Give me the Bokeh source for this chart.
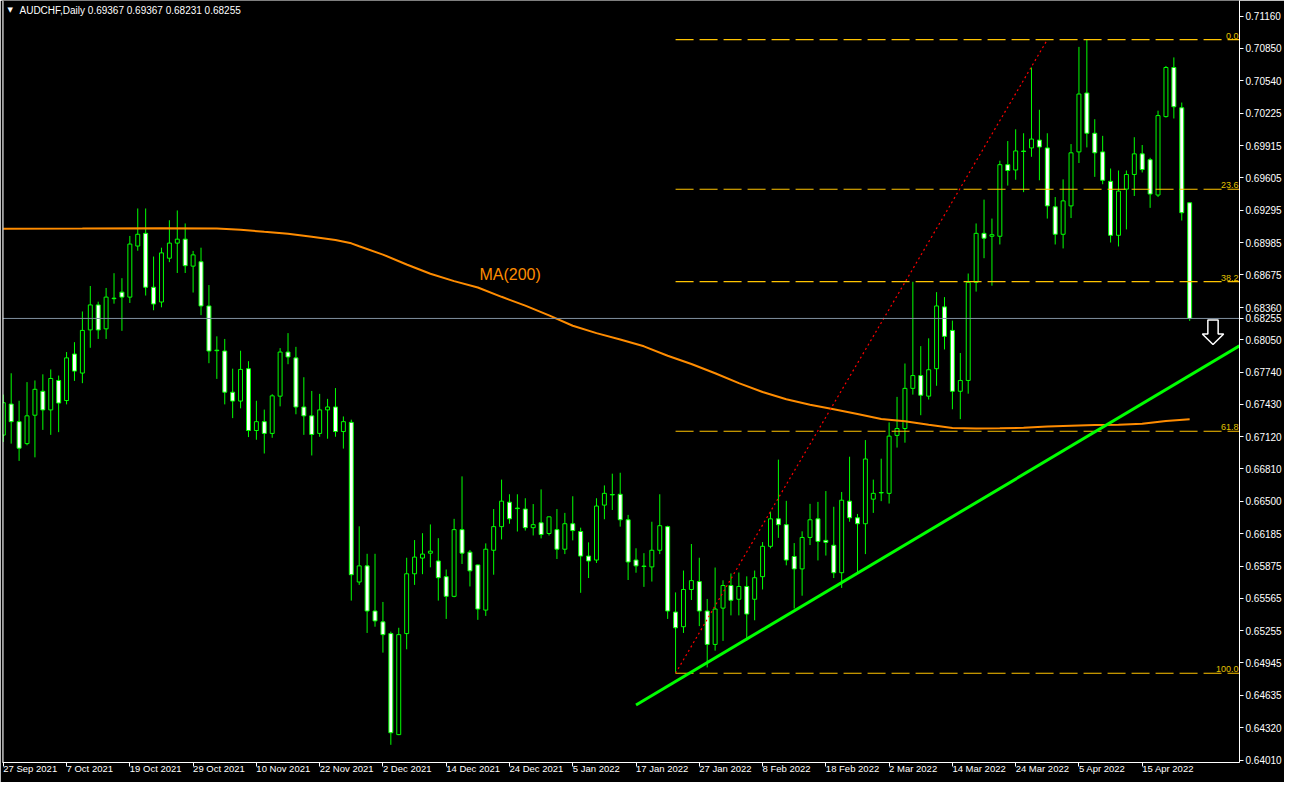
from bokeh.plotting import figure
from bokeh.models import ColumnDataSource, FixedTicker, NumeralTickFormatter, Span, Range1d
from bokeh.embed import file_html
from bokeh.resources import INLINE
from bokeh.core.properties import value

# ---------------- data (AUDCHF daily, bar index 0 = 27 Sep 2021) ----------------
opens = [0.67134, 0.67432, 0.67263, 0.67052, 0.67325, 0.67555, 0.67376, 0.67659, 0.67466, 0.67913,
         0.67730, 0.68145, 0.68385, 0.68155, 0.68450, 0.68508, 0.68460, 0.68951, 0.69073, 0.68555,
         0.68413, 0.68834, 0.68979, 0.69017, 0.68758, 0.68800, 0.68375, 0.67950, 0.67942, 0.67546,
         0.67461, 0.67772, 0.67178, 0.67263, 0.67150, 0.67508, 0.67932, 0.67876, 0.67404, 0.67319,
         0.67150, 0.67376, 0.67404, 0.67168, 0.67256, 0.65722, 0.65877, 0.65443, 0.65339, 0.65226,
         0.64255, 0.65226, 0.65801, 0.65952, 0.65999, 0.65924, 0.65773, 0.65584, 0.66225, 0.66009,
         0.65886, 0.65452, 0.66027, 0.66254, 0.66489, 0.66432, 0.66423, 0.66244, 0.66291, 0.66188,
         0.66225, 0.66037, 0.66282, 0.66207, 0.65971, 0.65933, 0.66461, 0.66563, 0.66565, 0.66320,
         0.65933, 0.65875, 0.65867, 0.66027, 0.66254, 0.65433, 0.65292, 0.65650, 0.65726, 0.65443,
         0.65122, 0.65471, 0.65688, 0.65556, 0.65679, 0.65556, 0.65773, 0.66065, 0.66329, 0.66273,
         0.65967, 0.65848, 0.66150, 0.66329, 0.66122, 0.66075, 0.65811, 0.66499, 0.66339, 0.66282,
         0.66518, 0.66582, 0.66574, 0.67131, 0.67197, 0.67583, 0.67706, 0.67508, 0.67772, 0.68366,
         0.68140, 0.67555, 0.67659, 0.68602, 0.69073, 0.69045, 0.69045, 0.69733, 0.69682, 0.69864,
         0.69894, 0.69969, 0.69894, 0.69328, 0.69064, 0.69337, 0.69856, 0.70422, 0.70035, 0.69856,
         0.69573, 0.69054, 0.69498, 0.69639, 0.69837, 0.69781, 0.69441, 0.70195, 0.70667, 0.70280,
         0.69367]
highs = [0.67523, 0.67728, 0.67464, 0.67643, 0.67659, 0.67718, 0.67765, 0.67706, 0.67932, 0.68027,
         0.68322, 0.68567, 0.68416, 0.68548, 0.68690, 0.68642, 0.69048, 0.69312, 0.69312, 0.68850,
         0.68935, 0.69199, 0.69293, 0.69168, 0.68904, 0.68935, 0.68576, 0.68083, 0.68058, 0.67772,
         0.67945, 0.67844, 0.67464, 0.67379, 0.67527, 0.67970, 0.68114, 0.67982, 0.67690, 0.67558,
         0.67530, 0.67482, 0.67586, 0.67313, 0.67282, 0.66257, 0.65993, 0.65993, 0.65530, 0.65245,
         0.65282, 0.65955, 0.66125, 0.66191, 0.66275, 0.66143, 0.65842, 0.66329, 0.66737, 0.66030,
         0.65890, 0.66093, 0.66423, 0.66706, 0.66565, 0.66565, 0.66527, 0.66471, 0.66612, 0.66350,
         0.66423, 0.66386, 0.66546, 0.66244, 0.66103, 0.66527, 0.66650, 0.66763, 0.66772, 0.66367,
         0.66046, 0.65999, 0.66301, 0.66565, 0.66263, 0.65622, 0.65832, 0.66087, 0.65955, 0.65559,
         0.65861, 0.65738, 0.65804, 0.65813, 0.65776, 0.65832, 0.66106, 0.66398, 0.66898, 0.66502,
         0.66096, 0.66209, 0.66473, 0.66492, 0.66596, 0.66445, 0.66587, 0.66926, 0.66376, 0.67086,
         0.66706, 0.66907, 0.67256, 0.67501, 0.67822, 0.68608, 0.67989, 0.68064, 0.68508, 0.68460,
         0.68234, 0.67923, 0.68687, 0.69168, 0.69397, 0.69215, 0.69771, 0.69960, 0.70073, 0.70035,
         0.70667, 0.70261, 0.70035, 0.69422, 0.69592, 0.69931, 0.70865, 0.70934, 0.70170, 0.70010,
         0.69696, 0.69677, 0.69677, 0.69997, 0.69922, 0.69799, 0.70252, 0.70682, 0.70764, 0.70330,
         0.69367]
lows = [0.67068, 0.67052, 0.66886, 0.67036, 0.66920, 0.67184, 0.67136, 0.67162, 0.67429, 0.67655,
        0.67633, 0.67973, 0.68058, 0.68058, 0.68397, 0.68136, 0.68404, 0.68906, 0.68475, 0.68334,
        0.68362, 0.68796, 0.68692, 0.68692, 0.68504, 0.68287, 0.67825, 0.67674, 0.67429, 0.67297,
        0.67391, 0.67115, 0.67089, 0.66957, 0.67108, 0.67410, 0.67815, 0.67334, 0.67136, 0.66938,
        0.67118, 0.67099, 0.67118, 0.67004, 0.65543, 0.65694, 0.65232, 0.65292, 0.65043, 0.64157,
        0.64250, 0.65075, 0.65694, 0.65797, 0.65863, 0.65543, 0.65367, 0.65575, 0.65895, 0.65679,
        0.65358, 0.65396, 0.65792, 0.66131, 0.66282, 0.66207, 0.66216, 0.66169, 0.66141, 0.66169,
        0.65943, 0.65990, 0.66122, 0.65618, 0.65760, 0.65905, 0.66325, 0.66414, 0.66254, 0.65741,
        0.65811, 0.65675, 0.65726, 0.65990, 0.65367, 0.64845, 0.65232, 0.65549, 0.65298, 0.64901,
        0.65062, 0.65156, 0.65401, 0.65401, 0.65160, 0.65354, 0.65650, 0.66046, 0.66146, 0.65882,
        0.65467, 0.65590, 0.66077, 0.65929, 0.65976, 0.65760, 0.65665, 0.66301, 0.65801, 0.65990,
        0.66386, 0.66499, 0.66476, 0.67014, 0.67061, 0.67523, 0.67325, 0.67476, 0.67608, 0.67957,
        0.67382, 0.67287, 0.67532, 0.68513, 0.68834, 0.68570, 0.68966, 0.69532, 0.69588, 0.69469,
        0.69809, 0.69583, 0.69215, 0.68966, 0.68928, 0.69220, 0.69749, 0.69899, 0.69616, 0.69545,
        0.68985, 0.68947, 0.69111, 0.69432, 0.69658, 0.69318, 0.69422, 0.70186, 0.70177, 0.69196,
        0.68231]
closes = [0.67445, 0.67263, 0.67008, 0.67319, 0.67574, 0.67376, 0.67678, 0.67442, 0.67876, 0.67749,
          0.68140, 0.68385, 0.68145, 0.68460, 0.68445, 0.68460, 0.68970, 0.69064, 0.68555, 0.68394,
          0.68885, 0.68979, 0.69017, 0.68762, 0.68866, 0.68375, 0.67942, 0.67945, 0.67546, 0.67461,
          0.67765, 0.67178, 0.67263, 0.67150, 0.67511, 0.67932, 0.67885, 0.67404, 0.67319, 0.67140,
          0.67376, 0.67404, 0.67168, 0.67263, 0.65792, 0.65877, 0.65443, 0.65348, 0.65216, 0.64273,
          0.65216, 0.65801, 0.65961, 0.65990, 0.66018, 0.65763, 0.65584, 0.66225, 0.65999, 0.65829,
          0.65462, 0.66037, 0.66254, 0.66499, 0.66329, 0.66427, 0.66244, 0.66273, 0.66178, 0.66348,
          0.66037, 0.66282, 0.66216, 0.65971, 0.65924, 0.66452, 0.66574, 0.66559, 0.66320, 0.65914,
          0.65877, 0.65871, 0.66027, 0.66263, 0.65443, 0.65282, 0.65650, 0.65735, 0.65443, 0.65122,
          0.65462, 0.65688, 0.65546, 0.65679, 0.65414, 0.65763, 0.66065, 0.66329, 0.66273, 0.65933,
          0.65848, 0.66150, 0.66320, 0.66112, 0.66103, 0.65811, 0.66508, 0.66339, 0.66282, 0.66904,
          0.66574, 0.66578, 0.67124, 0.67197, 0.67583, 0.67706, 0.67517, 0.67762, 0.68375, 0.68083,
          0.67555, 0.67659, 0.68602, 0.69073, 0.69026, 0.69060, 0.69733, 0.69677, 0.69865, 0.69860,
          0.69979, 0.69903, 0.69337, 0.69064, 0.69385, 0.69847, 0.70412, 0.70035, 0.69847, 0.69583,
          0.69054, 0.69479, 0.69639, 0.69837, 0.69686, 0.69451, 0.70205, 0.70667, 0.70290, 0.69271,
          0.68255]

# 200-day moving average, read at selected bars
ma_bars = [0, 10, 20, 27, 30, 33, 36, 39, 42, 44, 45, 48, 51, 54, 57, 60, 63, 66, 69, 72, 75, 78, 81,
           84, 87, 90, 93, 96, 99, 102, 105, 108, 111, 114, 117, 120, 123, 126, 129, 132, 135, 138,
           141, 144, 147, 150]
ma_values = [0.69117, 0.69119, 0.69123, 0.69119, 0.69107, 0.69088, 0.69070, 0.69041, 0.69010, 0.68977,
             0.68949, 0.68869, 0.68774, 0.68685, 0.68614, 0.68553, 0.68463, 0.68378, 0.68284, 0.68185,
             0.68114, 0.68053, 0.67987, 0.67897, 0.67817, 0.67728, 0.67633, 0.67548, 0.67478, 0.67426,
             0.67383, 0.67336, 0.67289, 0.67266, 0.67233, 0.67202, 0.67197, 0.67200, 0.67204, 0.67216,
             0.67223, 0.67230, 0.67233, 0.67242, 0.67270, 0.67287]

x_tick_bars = [0, 8, 16, 24, 32, 40, 48, 56, 64, 72, 80, 88, 96, 104, 112, 120, 128, 136, 144]
x_tick_labels = ["27 Sep 2021", "7 Oct 2021", "19 Oct 2021", "29 Oct 2021", "10 Nov 2021",
                 "22 Nov 2021", "2 Dec 2021", "14 Dec 2021", "24 Dec 2021", "5 Jan 2022",
                 "17 Jan 2022", "27 Jan 2022", "8 Feb 2022", "18 Feb 2022", "2 Mar 2022",
                 "14 Mar 2022", "24 Mar 2022", "5 Apr 2022", "15 Apr 2022"]
y_ticks = [0.71160, 0.70850, 0.70540, 0.70225, 0.69915, 0.69605, 0.69295, 0.68985, 0.68675, 0.68360,
           0.68050, 0.67740, 0.67430, 0.67120, 0.66810, 0.66500, 0.66185, 0.65875, 0.65565, 0.65255,
           0.64945, 0.64635, 0.64320, 0.64010]

# Fibonacci retracement (anchor bars and prices)
fib_bar_start, fib_bar_end = 85, 132
fib_low, fib_high = 0.64845, 0.70934
fib_ratios = [0.0, 0.236, 0.382, 0.618, 1.0]
fib_labels = ["0.0", "23.6", "38.2", "61.8", "100.0"]

# Green support trend line
trend_bars = [80, 156.3]
trend_prices = [0.64540, 0.67992]

# hollow "down" arrow annotation
arrow_bar, arrow_top, arrow_neck, arrow_tip = 152.95, 0.68240, 0.68105, 0.68004
ma_label_bar, ma_label_price = 60.2, 0.68680

# ---------------- figure ----------------
X0, X1 = -0.1, 156.3
Y0, Y1 = 0.63987, 0.71311
FONT = "Liberation Sans"
last = closes[-1]

p = figure(width=1284, height=782, output_backend="svg", toolbar_location=None,
           x_range=Range1d(X0, X1), y_range=Range1d(Y0, Y1), y_axis_location="right",
           background_fill_color="black", border_fill_color="black", outline_line_color=None,
           min_border_left=2, min_border_top=0, min_border_right=0, min_border_bottom=0)
p.grid.visible = False

# axes
ya = p.yaxis[0]
ya.ticker = FixedTicker(ticks=sorted(y_ticks + [last]), minor_ticks=[])
ya.formatter = NumeralTickFormatter(format="0.00000")
xa = p.xaxis[0]
xa.ticker = FixedTicker(ticks=x_tick_bars, minor_ticks=[])
xa.major_label_overrides = {b: l for b, l in zip(x_tick_bars, x_tick_labels)}
xa.major_label_orientation = -1e-6
for ax in (xa, ya):
    ax.axis_line_color = "white"
    ax.axis_line_width = 1
    ax.major_tick_line_color = "white"
    ax.major_tick_out = 4
    ax.major_tick_in = 0
    ax.minor_tick_line_color = None
    ax.major_label_text_color = "white"
    ax.major_label_text_font = FONT
    ax.axis_label_standoff = 0
ya.major_label_text_font_size = "10px"
ya.major_label_standoff = 2
xa.major_label_text_font_size = "9.5px"
xa.major_label_standoff = 2

p.add_layout(Span(location=X0, dimension="height", line_color="white", line_width=2))

# candles
n = len(opens)
src = ColumnDataSource(dict(
    x=list(range(n)), h=highs, l=lows,
    top=[max(o, c) for o, c in zip(opens, closes)],
    bottom=[min(o, c) for o, c in zip(opens, closes)],
    fill=["#000000" if c >= o else "#FFFFFF" for o, c in zip(opens, closes)],
))
p.segment(x0="x", y0="l", x1="x", y1="h", source=src, line_color="#00FF00", line_width=1)
p.vbar(x="x", width=0.5, top="top", bottom="bottom", source=src,
       fill_color="fill", line_color="#00FF00", line_width=1)

# MA(200)
p.line(ma_bars, ma_values, line_color="#FF8C00", line_width=2)
p.text(x=[ma_label_bar], y=[ma_label_price], text=["MA(200)"], text_color="#FF8C00",
       text_font=value(FONT), text_font_size="16px", text_baseline="middle", text_align="left")

# Fibonacci
FIB_COL = "#FFC400"
fib_prices = [fib_high - r * (fib_high - fib_low) for r in fib_ratios]
for fp in fib_prices:
    p.line([fib_bar_start, X1], [fp, fp], line_color=FIB_COL, line_width=1.2, line_dash="18 6")
p.text(x=[X1] * len(fib_prices), y=fib_prices, text=fib_labels, text_color="#E0C000",
       text_font=value(FONT), text_font_size="9px", text_align="right", text_baseline="bottom",
       x_offset=-1, y_offset=-1)
p.line([fib_bar_start, fib_bar_end], [fib_low, fib_high], line_color="#FF0000", line_width=1.2,
       line_dash="2 3")

# trend line
p.line(trend_bars, trend_prices, line_color="#00FF00", line_width=3)

# current price line
p.line([X0, X1], [last, last], line_color="#8090A0", line_width=1)

# arrow
aw, hw = 0.65, 1.35
p.patch([arrow_bar - aw, arrow_bar + aw, arrow_bar + aw, arrow_bar + hw, arrow_bar,
         arrow_bar - hw, arrow_bar - aw],
        [arrow_top, arrow_top, arrow_neck, arrow_neck, arrow_tip, arrow_neck, arrow_neck],
        fill_color="black", line_color="white", line_width=1.5)

# title
title_txt = "AUDCHF,Daily  " + " ".join(f"{v:.5f}" for v in (opens[-1], highs[-1], lows[-1], closes[-1]))
p.text(x=[X0], y=[Y1], text=["\u25BC"], text_color="white", text_font=value("DejaVu Sans"),
       text_font_size="7px", text_baseline="middle", x_offset=5, y_offset=9)
p.text(x=[X0], y=[Y1], text=[title_txt], text_color="white", text_font=value(FONT),
       text_font_size="10px", text_baseline="middle", x_offset=17, y_offset=10)

open("out.html", "w").write(file_html(p, INLINE))
